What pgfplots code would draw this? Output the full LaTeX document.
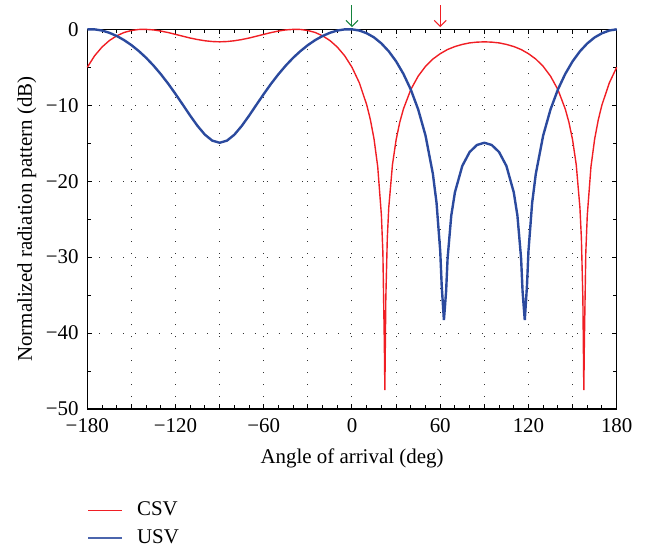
\documentclass[border=0pt]{standalone}
\usepackage{fontspec}
\setmainfont{Liberation Serif}
\usepackage{pgfplots}
\pgfplotsset{compat=1.18}
\usetikzlibrary{arrows.meta}
\definecolor{csvred}{RGB}{240,30,36}
\definecolor{usvblue}{RGB}{43,74,158}
\definecolor{arrgreen}{RGB}{20,130,60}
\begin{document}
\begin{tikzpicture}
\begin{axis}[
  scale only axis, width=264.7bp, height=189.85bp,
  xmin=-180, xmax=180, ymin=-50, ymax=0,
  xtick={-180,-150,...,180},
  xticklabels={−180,,−120,,−60,,0,,60,,120,,180},
  ytick={-50,-40,...,0},
  yticklabels={−50,−40,−30,−20,−10,0},
  minor x tick num=2, minor y tick num=1,
  tick align=inside, major tick length=2.5bp, minor tick length=1.8bp,
  grid=major,
  major grid style={black!80, line width=0.5pt, dash pattern=on 0.5pt off 5.5pt},
  axis line style={line width=0.6pt},
  every tick/.style={black, line width=0.5pt},
  tick label style={font=\fontsize{10.5}{12}\selectfont},
  xticklabel style={yshift=-1.2bp},
  yticklabel style={xshift=-0.8bp},
  label style={font=\fontsize{10.5}{12}\selectfont},
  xlabel={Angle of arrival (deg)},
  xlabel style={yshift=-1.5bp},
  ylabel={Normalized radiation pattern (dB)},
  ylabel style={yshift=-2bp},
  clip=false,
  legend style={at={(0,-0.233)}, anchor=north west, draw=none, fill=none,
    font=\fontsize{10.5}{12}\selectfont, inner sep=0pt, row sep=1.5bp,
    nodes={inner xsep=7bp}},
  legend cell align=left,
]
\addplot[csvred, line width=0.7pt] coordinates {
(-180,-5.00) (-175,-3.48) (-170,-2.34) (-165,-1.48) (-160,-0.86) (-155,-0.42)
(-150,-0.16) (-145,-0.02) (-140,-0.01) (-135,-0.08) (-130,-0.23) (-125,-0.43)
(-120,-0.67) (-115,-0.91) (-110,-1.15) (-105,-1.35) (-100,-1.51) (-95,-1.61)
(-90,-1.65) (-85,-1.61) (-80,-1.51) (-75,-1.35) (-70,-1.15) (-65,-0.91)
(-60,-0.67) (-55,-0.43) (-50,-0.23) (-45,-0.08) (-40,-0.01) (-35,-0.02)
(-30,-0.16) (-25,-0.42) (-20,-0.86) (-15,-1.48) (-10,-2.34) (-5,-3.48)
(0,-5.00) (5,-7.05) (10,-9.94) (12.5,-11.90) (15,-14.46) (17.5,-18.11)
(20,-24.49) (21,-29.38) (22,-41.45) (22.35,-47.5) (23,-35.46) (24,-27.54)
(25,-23.49) (27.5,-17.85) (30,-14.55) (32.5,-12.23) (35,-10.48) (40,-7.93)
(45,-6.17) (50,-4.88) (55,-3.92) (60,-3.21) (65,-2.66) (70,-2.27)
(75,-1.99) (80,-1.79) (85,-1.69) (90,-1.65) (95,-1.69) (100,-1.79)
(105,-1.99) (110,-2.27) (115,-2.66) (120,-3.21) (125,-3.92) (130,-4.88)
(135,-6.17) (140,-7.93) (145,-10.48) (147.5,-12.23) (150,-14.55) (152.5,-17.85)
(155,-23.49) (156,-27.54) (157,-35.46) (157.65,-47.5) (158,-41.45) (159,-29.38)
(160,-24.49) (162.5,-18.11) (165,-14.46) (167.5,-11.90) (170,-9.94) (175,-7.05)
(180,-5.00)
};
\addlegendentry{CSV}
\addplot[usvblue, line width=1.2pt, forget plot] coordinates {
(-180,0) (-175,-0.01) (-170,-0.16) (-165,-0.46) (-160,-0.88) (-155,-1.42)
(-150,-2.08) (-145,-2.86) (-140,-3.75) (-135,-4.77) (-130,-5.91) (-125,-7.16)
(-120,-8.52) (-115,-9.94) (-110,-11.38) (-105,-12.73) (-100,-13.88) (-95,-14.66)
(-90,-14.94) (-85,-14.66) (-80,-13.88) (-75,-12.73) (-70,-11.38) (-65,-9.94)
(-60,-8.52) (-55,-7.16) (-50,-5.91) (-45,-4.77) (-40,-3.75) (-35,-2.86)
(-30,-2.08) (-25,-1.42) (-20,-0.88) (-15,-0.46) (-10,-0.16) (-5,-0.01)
(0,0) (5,-0.16) (10,-0.52) (15,-1.07) (20,-1.86) (25,-2.90)
(30,-4.22) (35,-5.88) (40,-7.94) (45,-10.55) (50,-13.99) (55,-19.03)
(57.5,-22.87) (60,-29.21) (61,-33.74) (62.5,-38.3) (64,-34.52) (65,-30.18)
(67.5,-24.54) (70,-21.46) (75,-17.99) (80,-16.16) (85,-15.23) (90,-14.94)
(95,-15.23) (100,-16.16) (105,-17.99) (110,-21.46) (112.5,-24.54) (115,-30.18)
(116,-34.52) (117.5,-38.3) (119,-33.74) (120,-29.21) (122.5,-22.87) (125,-19.03)
(130,-13.99) (135,-10.55) (140,-7.94) (145,-5.88) (150,-4.22) (155,-2.90)
(160,-1.86) (165,-1.07) (170,-0.52) (175,-0.16) (180,0)
};
\addlegendimage{usvblue!85, line width=0.7pt}
\addlegendentry{USV}
\draw[arrgreen, line width=0.5pt, -{Straight Barb[length=3bp,width=6bp]}] (axis cs:0,3.2) -- (axis cs:0,0.3);
\draw[csvred, line width=0.5pt, -{Straight Barb[length=3bp,width=6bp]}] (axis cs:60,3.2) -- (axis cs:60,0.3);
\end{axis}
\pgfresetboundingbox
\path (current axis.south west) ++(-43.65bp,-68.5bp) rectangle ++(324.5bp,273bp);
\end{tikzpicture}
\end{document}
